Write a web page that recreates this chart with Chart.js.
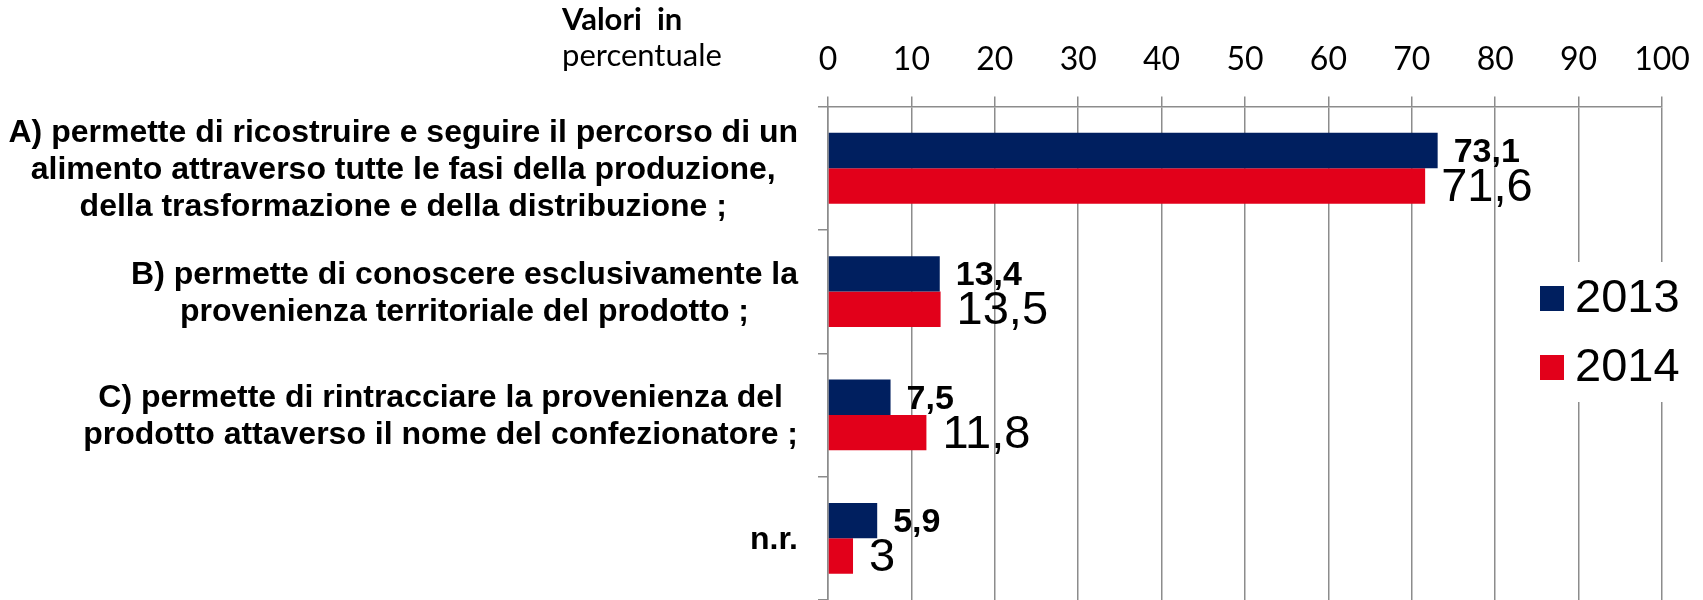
<!DOCTYPE html>
<html>
<head>
<meta charset="utf-8">
<script src="https://cdn.jsdelivr.net/npm/chart.js@4/dist/chart.umd.min.js"></script>
<style>
  html, body { margin: 0; padding: 0; background: #fff; }
  #wrap { width: 1703px; height: 600px; position: relative; }
</style>
</head>
<body>
<div id="wrap"><canvas id="myChart"></canvas></div>
<script>
(function(){
  'use strict';

  const categories = [
    ['A) permette di ricostruire e seguire il percorso di un',
     'alimento attraverso tutte le fasi della produzione,',
     'della trasformazione e della distribuzione ;'],
    ['B) permette di conoscere esclusivamente la',
     'provenienza territoriale del prodotto ;'],
    ['C) permette di rintracciare la provenienza del',
     'prodotto attaverso il nome del confezionatore ;'],
    ['n.r.']
  ];
  const seriesNames = ['2013', '2014'];
  const values2013 = [73.1, 13.4, 7.5, 5.9];
  const values2014 = [71.6, 13.5, 11.8, 3];
  const axisTitle = ['Valori  in', 'percentuale'];

  const navy = '#001F5F';
  const red = '#E2001A';
  const gridGrey = '#8c8c8c';
  const arial = '"Liberation Sans", Arial, sans-serif';
  const calib = 'Lato, "Open Sans", sans-serif';

  function fmt(v){
    return String(v).replace('.', ',');
  }

  // category labels: each block centred on itself, blocks right-aligned
  const categoryLabels = {
    id: 'categoryLabels',
    afterDraw(chart){
      const ctx = chart.ctx;
      const yScale = chart.scales.y;
      const right = chart.chartArea.left - 30;
      const lineH = 37;
      ctx.save();
      ctx.font = 'bold 32px ' + arial;
      ctx.fillStyle = '#000';
      ctx.textAlign = 'center';
      ctx.textBaseline = 'middle';
      categories.forEach((lines, i) => {
        const widest = Math.max(...lines.map(l => ctx.measureText(l).width));
        const cx = right - widest / 2;
        const cy = yScale.getPixelForTick(i) + 2;
        const top = cy - (lines.length - 1) * lineH / 2;
        lines.forEach((l, k) => ctx.fillText(l, cx, top + k * lineH));
      });
      // axis title
      ctx.textAlign = 'left';
      ctx.textBaseline = 'alphabetic';
      ctx.font = 'bold 31px ' + calib;
      ctx.fillText(axisTitle[0], 562, 30);
      ctx.font = '31px ' + calib;
      ctx.fillText(axisTitle[1], 562, 66);
      ctx.restore();
    }
  };

  // value labels to the right of each bar
  const valueLabels = {
    id: 'valueLabels',
    afterDatasetsDraw(chart){
      const ctx = chart.ctx;
      ctx.save();
      ctx.fillStyle = '#000';
      ctx.textAlign = 'left';
      ctx.textBaseline = 'middle';
      chart.data.datasets.forEach((ds, d) => {
        ctx.font = d === 0 ? 'bold 34px ' + arial : '47px ' + arial;
        chart.getDatasetMeta(d).data.forEach((bar, i) => {
          ctx.fillText(fmt(ds.data[i]), bar.x + 16, bar.y + 2);
        });
      });
      ctx.restore();
    }
  };

  // legend sitting over the right side of the plot
  const overlayLegend = {
    id: 'overlayLegend',
    afterDraw(chart){
      const ctx = chart.ctx;
      ctx.save();
      ctx.fillStyle = '#fff';
      ctx.fillRect(1528, 262, 170, 140);
      ctx.font = '47px ' + arial;
      ctx.textAlign = 'left';
      ctx.textBaseline = 'middle';
      chart.data.datasets.forEach((ds, d) => {
        const cy = 298.5 + d * 69;
        ctx.fillStyle = ds.backgroundColor;
        ctx.fillRect(1540, cy - 12.5, 24, 25);
        ctx.fillStyle = '#000';
        ctx.fillText(ds.label, 1575, cy + 1);
      });
      ctx.restore();
    }
  };

  const ctx = document.getElementById('myChart').getContext('2d');
  new Chart(ctx, {
    type: 'bar',
    data: {
      labels: categories.map(c => c.join(' ')),
      datasets: [
        { label: seriesNames[0], data: values2013, backgroundColor: navy },
        { label: seriesNames[1], data: values2014, backgroundColor: red }
      ]
    },
    options: {
      indexAxis: 'y',
      responsive: true,
      maintainAspectRatio: false,
      animation: false,
      categoryPercentage: 0.574,
      barPercentage: 1.0,
      layout: { padding: { left: 818, right: 41, top: 22, bottom: 0 } },
      scales: {
        x: {
          position: 'top',
          min: 0,
          max: 100,
          ticks: {
            stepSize: 10,
            color: '#000',
            padding: 12,
            font: { family: calib, size: 32, lineHeight: 1.58 }
          },
          grid: { color: gridGrey, lineWidth: 1.5, tickLength: 10 },
          border: { color: gridGrey, width: 1.5 }
        },
        y: {
          ticks: { display: false },
          grid: {
            color: gridGrey, lineWidth: 1.5, tickLength: 10,
            drawOnChartArea: false, offset: true
          },
          border: { color: gridGrey, width: 1.5 }
        }
      },
      plugins: {
        legend: { display: false },
        tooltip: { enabled: false }
      }
    },
    plugins: [valueLabels, categoryLabels, overlayLegend]
  });
})();
</script>
</body>
</html>
